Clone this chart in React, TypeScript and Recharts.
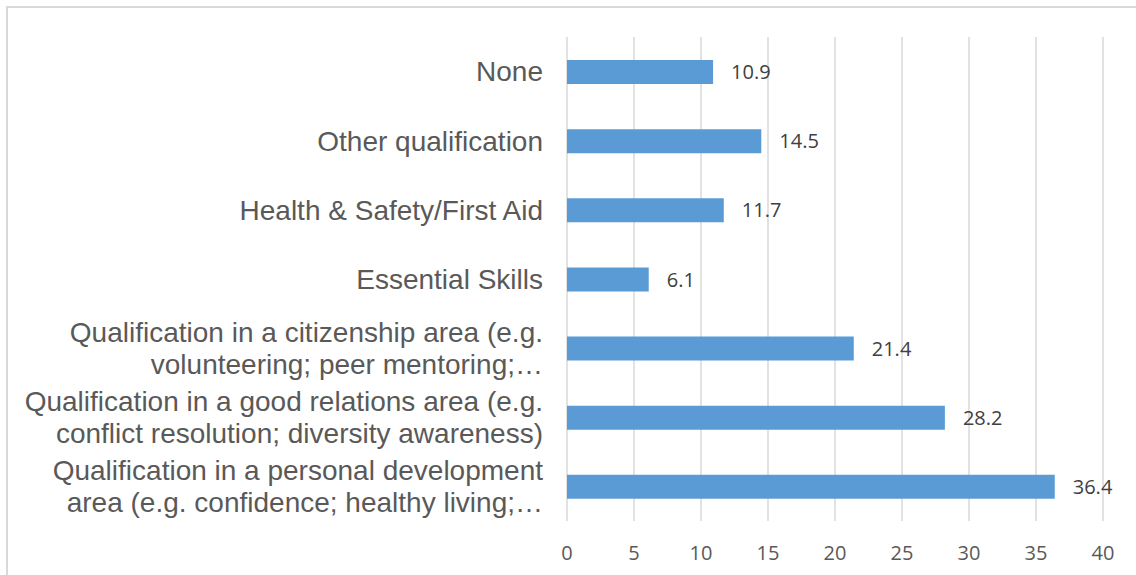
import React from 'react';
import { BarChart, Bar, XAxis, YAxis, CartesianGrid, LabelList } from 'recharts';

// categories top to bottom, lines split where the original label wraps
const categories = [
  'None',
  'Other qualification',
  'Health & Safety/First Aid',
  'Essential Skills',
  'Qualification in a citizenship area (e.g.\nvolunteering; peer mentoring;…',
  'Qualification in a good relations area (e.g.\nconflict resolution; diversity awareness)',
  'Qualification in a personal development\narea (e.g. confidence; healthy living;…',
];
const values = [10.9, 14.5, 11.7, 6.1, 21.4, 28.2, 36.4];
const xTicks = [0, 5, 10, 15, 20, 25, 30, 35, 40];

const data = categories.map((name, i) => ({ name, value: values[i] }));

const CategoryTick = (props: any) => {
  const { x, y, payload } = props;
  const lines: string[] = String(payload.value).split('\n');
  const lineH = 32;
  const start = -((lines.length - 1) * lineH) / 2;
  return (
    <text
      x={x}
      y={y}
      textAnchor="end"
      fill="#595959"
      fontSize={28}
      fontFamily="'Liberation Sans', Arial, sans-serif"
    >
      {lines.map((line, i) => (
        <tspan key={i} x={x} y={y + start + i * lineH} dy="0.35em">
          {line}
        </tspan>
      ))}
    </text>
  );
};

export default function App() {
  return (
    <div style={{ position: 'absolute', left: 0, top: 0, width: 1136, height: 575, background: '#fff', overflow: 'hidden' }}>
      <div
        style={{
          position: 'absolute',
          left: 6,
          top: 6,
          width: 1140,
          height: 580,
          borderLeft: '2px solid #d9d9d9',
          borderTop: '2px solid #d9d9d9',
        }}
      />
      <div style={{ position: 'absolute', left: 0, top: 0 }}>
        <BarChart
          width={1136}
          height={575}
          data={data}
          layout="vertical"
          margin={{ top: 37, right: 33, left: 0, bottom: 14 }}
        >
          <CartesianGrid horizontal={false} stroke="#d9d9d9" strokeWidth={1.5} />
          <XAxis
            type="number"
            domain={[0, 40]}
            ticks={xTicks}
            axisLine={false}
            tickLine={false}
            tickSize={0}
            tickMargin={25}
            height={40}
            tick={{ fill: '#595959', fontSize: 20, fontFamily: "'Open Sans', sans-serif" }}
          />
          <YAxis
            type="category"
            dataKey="name"
            width={567}
            axisLine={false}
            tickLine={false}
            tickSize={0}
            tickMargin={24}
            interval={0}
            tick={<CategoryTick />}
          />
          <Bar dataKey="value" fill="#5b9bd5" barSize={24} isAnimationActive={false}>
            <LabelList
              dataKey="value"
              position="right"
              offset={18}
              fill="#404040"
              fontSize={20}
              fontFamily="'Open Sans', sans-serif"
            />
          </Bar>
        </BarChart>
      </div>
    </div>
  );
}
